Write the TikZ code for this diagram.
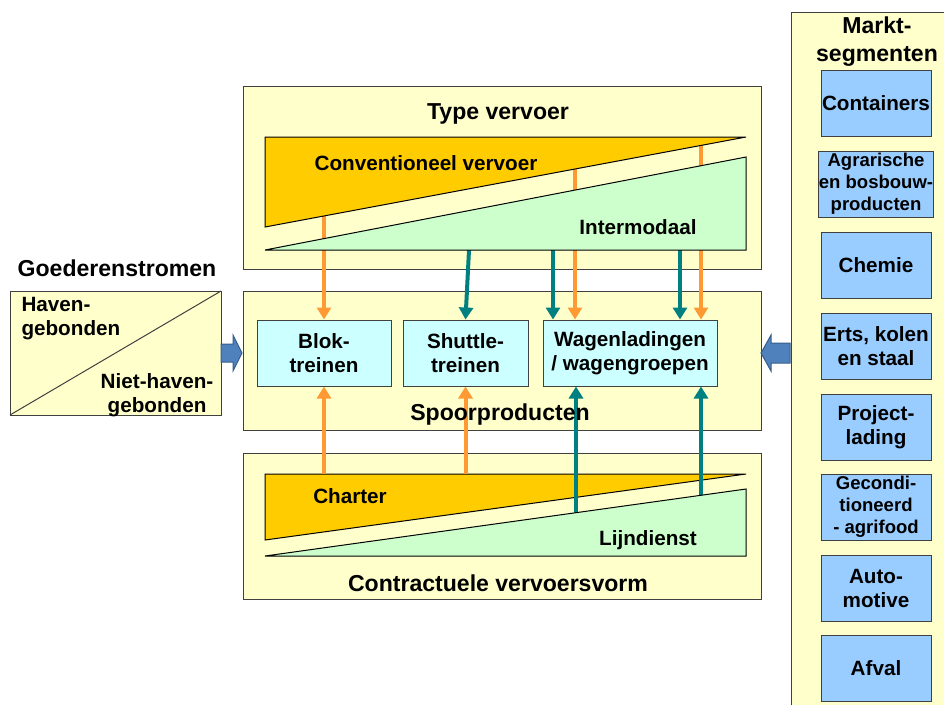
\documentclass[tikz,border=0pt]{standalone}
\usepackage{fontspec}
\setmainfont{Liberation Sans}
\usetikzlibrary{arrows.meta}

\definecolor{geel}{RGB}{255,255,204}
\definecolor{oranjevlak}{RGB}{255,204,0}
\definecolor{groenvlak}{RGB}{204,255,204}
\definecolor{cyaan}{RGB}{204,255,255}
\definecolor{blauwvak}{RGB}{153,204,255}
\definecolor{oranjelijn}{RGB}{255,153,51}
\definecolor{petrol}{RGB}{0,128,128}
\definecolor{blokpijl}{RGB}{79,129,189}
\definecolor{rand}{RGB}{64,64,64}

\tikzset{every picture/.style={line width=0.75pt}}
\tikzset{
  paneel/.style={draw=rand, fill=geel},
  vlak/.style={draw=black, line width=0.75pt},
  kop/.style={inner sep=0pt, font=\bfseries\fontsize{17.3}{21}\selectfont, align=center},
  tekst/.style={inner sep=0pt, font=\bfseries\fontsize{15.5}{18}\selectfont, align=center},
  vak/.style={draw=rand, fill=cyaan, minimum height=49.5pt, inner sep=0pt, align=center, font=\bfseries\fontsize{15.5}{18}\selectfont},
  segment/.style={draw=rand, fill=blauwvak, minimum width=82.5pt, minimum height=49.5pt, inner sep=0pt, align=center, font=\bfseries\fontsize{15.5}{18}\selectfont},
  kleinsegment/.style={segment, font=\bfseries\fontsize{13.9}{16.5}\selectfont},
  oranjepijl/.style={draw=oranjelijn, line width=3pt, -{Triangle[length=9pt,width=10.5pt]}},
  petrolpijl/.style={draw=petrol, line width=3pt, -{Triangle[length=9pt,width=10.5pt]}},
  dikpijl/.style={draw={rgb,255:red,56;green,93;blue,138}, fill=blokpijl, line width=0.75pt}
}

\begin{document}
\begin{tikzpicture}[x=0.75pt,y=0.75pt,yscale=-1,xscale=1]
\clip (0,0) rectangle (944,704);

%Shape: Rectangle - markt panel
\draw[paneel] (791,12) rectangle (960,720);
%Shape: Rectangle - goederenstromen
\draw[paneel] (10,291) rectangle (221,415);
\draw[rand] (10,415) -- (221,291);
%Shape: Rectangle - type vervoer
\draw[paneel] (243,86) rectangle (761,269);
%Shape: Rectangle - spoorproducten
\draw[paneel] (243,291) rectangle (761,430);
%Shape: Rectangle - contractuele vervoersvorm
\draw[paneel] (243,453) rectangle (761,599);

%Block arrows
\draw[dikpijl] (221,344) -- (233,344) -- (233,335) -- (242,353) -- (233,371) -- (233,362) -- (221,362) -- cycle;
\draw[dikpijl] (790,343) -- (771,343) -- (771,335) -- (761,353) -- (771,371) -- (771,363) -- (790,363) -- cycle;

% Spoorproducten
\node[vak, minimum width=100.5pt] (blok) at (324,353) {Blok-\\treinen};
\node[vak, minimum width=93.75pt] (shuttle) at (465.5,353) {Shuttle-\\treinen};
\node[vak, minimum width=130.5pt] (wagen) at (630,353) {Wagenladingen\\/ wagengroepen};

%Shape: Triangle - charter
\draw[vlak, fill=oranjevlak] (265,474) -- (746,474) -- (265,540) -- cycle;

% start points of the connectors
\coordinate (ct1) at (324,216);
\coordinate (ct2) at (469,250);
\coordinate (ct3) at (553,250);
\coordinate (ct4) at (575,169);
\coordinate (ct5) at (680,250);
\coordinate (ct6) at (701,145.4);
\coordinate (cb1) at (324,474);
\coordinate (cb2) at (465.5,474);
\coordinate (cb3) at (576,512.7);
\coordinate (cb4) at (701,495.3);

%Straight Lines - from type vervoer
\draw[oranjepijl] (ct1) -- (blok.north);
\draw[petrolpijl] (ct2) -- (shuttle.north);
\draw[petrolpijl] (ct3) -- (ct3 |- wagen.north);
\draw[oranjepijl] (ct4) -- (ct4 |- wagen.north);
\draw[petrolpijl] (ct5) -- (ct5 |- wagen.north);
\draw[oranjepijl] (ct6) -- (ct6 |- wagen.north);
%Straight Lines - from contractuele vervoersvorm
\draw[oranjepijl] (cb1) -- (blok.south);
\draw[oranjepijl] (cb2) -- (shuttle.south);
\draw[petrolpijl] (cb3) -- (cb3 |- wagen.south);
\draw[petrolpijl] (cb4) -- (cb4 |- wagen.south);

%Shape: Triangles - type vervoer
\draw[vlak, fill=groenvlak] (265,250) -- (746,157) -- (746,250) -- cycle;
\draw[vlak, fill=oranjevlak] (265,137) -- (746,137) -- (265,227) -- cycle;
%Shape: Triangle - lijndienst
\draw[vlak, fill=groenvlak] (265,556) -- (746,489) -- (746,556) -- cycle;

% Text Node
\node[kop] (goederen) at (117,268) {Goederenstromen};
% Text Node
\node[tekst, align=left, anchor=west] (haven) at (21,319) {Haven-\\gebonden};
% Text Node
\node[tekst] (niethaven) at (157,395) {Niet-haven-\\gebonden};
% Text Node
\node[kop] (typevervoer) at (498,114) {Type vervoer};
% Text Node
\node[tekst] (conventioneel) at (426,163) {Conventioneel vervoer};
% Text Node
\node[tekst] (intermodaal) at (638,227) {Intermodaal};
% Text Node
\node[kop] (spoor) at (500,415) {Spoorproducten};
% Text Node
\node[tekst] (charter) at (350,496) {Charter};
% Text Node
\node[tekst] (lijndienst) at (648,540) {Lijndienst};
% Text Node
\node[kop] (contract) at (498,583) {Contractuele vervoersvorm};
% Text Node
\node[kop] (markt) at (877,42) {Markt-\\segmenten};

% Marktsegmenten
\node[segment] (containers) at (876,103) {Containers};
\node[kleinsegment] (agrarisch) at (876,184) {Agrarische\\en bosbouw-\\producten};
\node[segment] (chemie) at (876,265) {Chemie};
\node[segment] (erts) at (876,346) {Erts, kolen\\en staal};
\node[segment] (project) at (876,427) {Project-\\lading};
\node[kleinsegment] (gecond) at (876,507) {Gecondi-\\tioneerd\\- agrifood};
\node[segment] (auto) at (876,588) {Auto-\\motive};
\node[segment] (afval) at (876,668) {Afval};

\end{tikzpicture}
\end{document}
